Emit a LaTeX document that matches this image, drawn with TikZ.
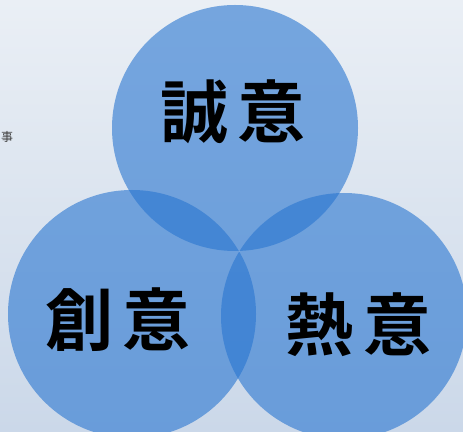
\documentclass[tikz,border=0pt]{standalone}
\usepackage{fontspec}
\newfontfamily\cjk{Noto Sans CJK JP}[BoldFont={Noto Sans CJK JP Bold}]
\definecolor{bgtop}{RGB}{234,239,245}
\definecolor{bgbot}{RGB}{203,216,233}
\definecolor{ringblue}{RGB}{40,117,208}
\begin{document}
\begin{tikzpicture}[x=1pt,y=1pt,
  ring/.style={fill=ringblue,fill opacity=0.6},
  word/.style={font=\cjk\bfseries\fontsize{68}{68}\selectfont,text=black,inner sep=0pt},
  stray/.style={font=\cjk\fontsize{12}{12}\selectfont,text=black!75,inner sep=0pt}]
\useasboundingbox (0,0) rectangle (463,431);
\shade[top color=bgtop,bottom color=bgbot] (0,0) rectangle (463,431);
\begin{scope}
\clip (0,0) rectangle (463,431);
\fill[ring] (235,303) circle (123);
\fill[ring] (132,117) circle (124);
\fill[ring] (344,115) circle (123);
\end{scope}
\node[word] (sei) at (233,319) {誠\hspace{10pt}意};
\node[word] (sou) at (118,111) {創\hspace{10pt}意};
\node[word] (netsu) at (358,106) {熱\hspace{10pt}意};
\node[stray,anchor=west] (koto) at (1,294) {事};
\end{tikzpicture}
\end{document}
